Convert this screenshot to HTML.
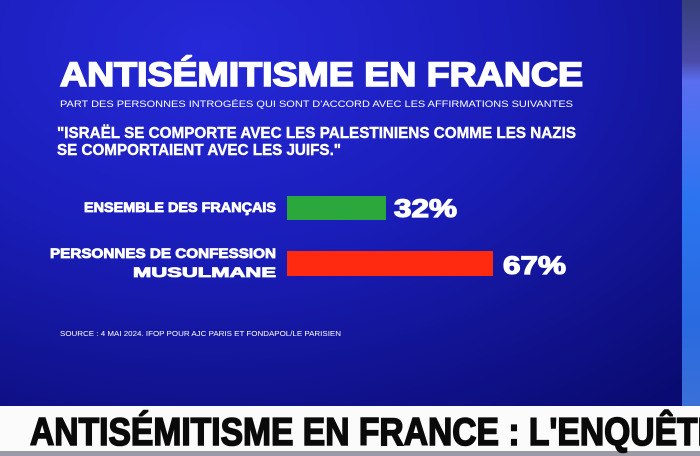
<!DOCTYPE html>
<html><head><meta charset="utf-8"><style>
html,body{margin:0;padding:0;width:700px;height:456px;overflow:hidden;background:#0b0c6e}
svg{display:block}
text{font-family:"Liberation Sans",sans-serif;font-weight:bold;fill:#fff}
.h{stroke:#fff;stroke-width:0.8}
</style></head><body>
<svg width="700" height="456" viewBox="0 0 700 456" xmlns="http://www.w3.org/2000/svg">
<defs>
<radialGradient id="bg" cx="0.3" cy="0.1" r="1.0">
<stop offset="0" stop-color="#2529d8"/>
<stop offset="0.45" stop-color="#1a1db8"/>
<stop offset="1" stop-color="#0a0b72"/>
</radialGradient>
<linearGradient id="rs" x1="0" y1="0" x2="0" y2="1">
<stop offset="0" stop-color="#36407a"/>
<stop offset="0.15" stop-color="#4a4aa8"/>
<stop offset="0.2" stop-color="#5a6ef0"/>
<stop offset="0.5" stop-color="#2a74f0"/>
<stop offset="0.8" stop-color="#2a6ae0"/>
<stop offset="1" stop-color="#3a70d8"/>
</linearGradient>
</defs>
<rect x="0" y="0" width="700" height="456" fill="url(#bg)"/>
<rect x="682" y="0" width="18" height="406" fill="url(#rs)"/>
<text class="h" style="stroke-width:1.6" x="60" y="86" font-size="34" textLength="523" lengthAdjust="spacingAndGlyphs">ANTISÉMITISME EN FRANCE</text>
<text x="60" y="107" font-size="9.5" style="font-weight:normal" textLength="513" lengthAdjust="spacingAndGlyphs">PART DES PERSONNES INTROGÉES QUI SONT D'ACCORD AVEC LES AFFIRMATIONS SUIVANTES</text>
<text class="h" style="stroke-width:0.4" x="57" y="138" font-size="16" textLength="519" lengthAdjust="spacingAndGlyphs">"ISRAËL SE COMPORTE AVEC LES PALESTINIENS COMME LES NAZIS</text>
<text class="h" style="stroke-width:0.4" x="57" y="155" font-size="16" textLength="284" lengthAdjust="spacingAndGlyphs">SE COMPORTAIENT AVEC LES JUIFS."</text>
<rect x="287" y="196" width="99" height="24" fill="#2aa83c"/>
<rect x="287" y="251" width="206" height="25" fill="#ff2a10"/>
<text class="h" x="276" y="212" font-size="14" text-anchor="end" textLength="192" lengthAdjust="spacingAndGlyphs">ENSEMBLE DES FRANÇAIS</text>
<text class="h" x="276" y="258" font-size="14" text-anchor="end" textLength="226" lengthAdjust="spacingAndGlyphs">PERSONNES DE CONFESSION</text>
<text class="h" x="276" y="277" font-size="14" text-anchor="end" textLength="143" lengthAdjust="spacingAndGlyphs">MUSULMANE</text>
<text class="h" style="stroke-width:1.2" x="394" y="217" font-size="25" textLength="63" lengthAdjust="spacingAndGlyphs">32%</text>
<text class="h" style="stroke-width:1.2" x="503" y="274" font-size="25" textLength="63" lengthAdjust="spacingAndGlyphs">67%</text>
<text x="60" y="336" font-size="7.5" style="font-weight:normal" textLength="281" lengthAdjust="spacingAndGlyphs" fill="#d8dcff">SOURCE : 4 MAI 2024. IFOP POUR AJC PARIS ET FONDAPOL/LE PARISIEN</text>
<rect x="0" y="406" width="700" height="45" fill="#fbfbfb"/>
<rect x="0" y="451" width="700" height="5" fill="#9a9aa6"/>
<text x="30" y="445" font-size="39" style="fill:#0a0a0a;stroke:#0a0a0a;stroke-width:1.6" textLength="690" lengthAdjust="spacingAndGlyphs">ANTISÉMITISME EN FRANCE : L'ENQUÊTE</text>
</svg>
</body></html>
